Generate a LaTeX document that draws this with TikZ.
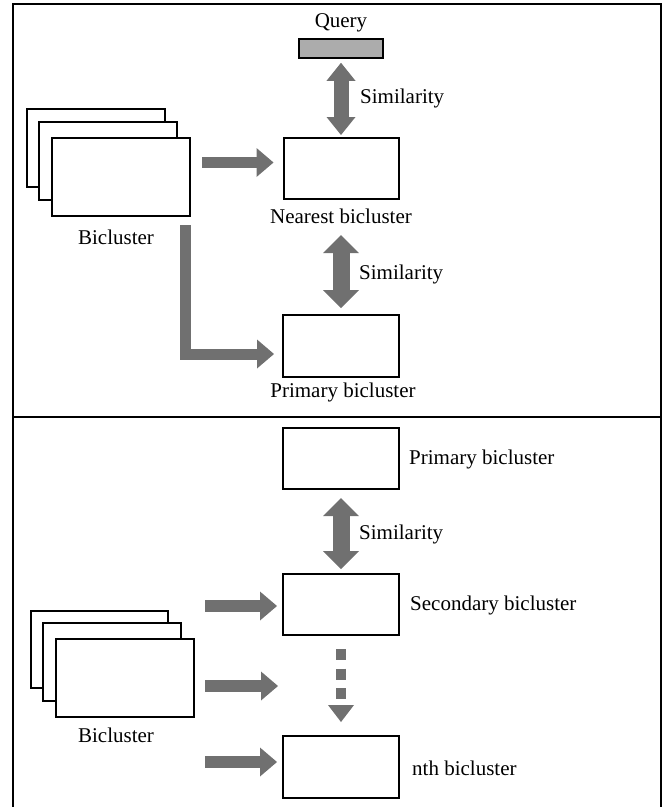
\documentclass[tikz,border=0pt]{standalone}
\usepackage{fontspec}
\setmainfont{Liberation Serif}
\usetikzlibrary{arrows.meta,calc}
\definecolor{arrowgray}{RGB}{112,112,112}
\definecolor{querygray}{RGB}{172,172,172}
\begin{document}
\begin{tikzpicture}[x=1pt,y=-1pt,
  every node/.style={font=\fontsize{21}{25}\selectfont},
  box/.style={draw=black,line width=2pt,fill=white,inner sep=0pt,minimum width=116pt,minimum height=61pt},
  stackbox/.style={draw=black,line width=2pt,fill=white,inner sep=0pt,minimum width=138pt,minimum height=78pt},
  lbl/.style={inner sep=0pt},
  harrow/.style={draw=arrowgray,line width=11.5pt,line join=miter,
     -{Triangle[width=29pt,length=17pt,line width=0pt,fill=arrowgray]}},
  varrowA/.style={draw=arrowgray,line width=15pt,
     {Triangle[width=29pt,length=18pt,line width=0pt,fill=arrowgray]}-{Triangle[width=29pt,length=18pt,line width=0pt,fill=arrowgray]}},
  varrowB/.style={draw=arrowgray,line width=17pt,
     {Triangle[width=36pt,length=18pt,line width=0pt,fill=arrowgray]}-{Triangle[width=36pt,length=18pt,line width=0pt,fill=arrowgray]}},
  dotarrow/.style={draw=arrowgray,line width=10pt,dash pattern=on 11pt off 8.5pt,
     -{Triangle[width=26pt,length=17pt,line width=0pt,fill=arrowgray]}}
]
\useasboundingbox (0,0) rectangle (667,807);
% frame
\draw[line width=2pt] (13,807) -- (13,4) -- (661,4) -- (661,807);
\draw[line width=2pt] (13,417) -- (661,417);

% ---------- top panel ----------
\node[draw=black,line width=1.6pt,fill=querygray,minimum width=84pt,minimum height=19pt,inner sep=0pt] (query) at (341,48.5) {};
\node[lbl] (querylbl) at (341,23) {Query};

\node[stackbox] (ts1) at (96,148) {};
\node[stackbox] (ts2) at (107.5,160.5) {};
\node[stackbox] (ts3) at (121,176.5) {};
\node[lbl] (tslbl) at (116,237) {Bicluster};

\node[box,minimum width=115pt] (nearest) at (341,168.5) {};
\node[lbl] (nearestlbl) at (341,216) {Nearest bicluster};

\node[box,minimum height=62pt] (primary1) at (341,346) {};
\node[lbl] (primary1lbl) at (343,392) {Primary bicluster};

\draw[varrowA,shorten <=4pt,shorten >=2pt] (query.south) -- (nearest.north);
\node[lbl,anchor=west] (sim1) at (360,98) {Similarity};

\coordinate (a1) at (202,162.5);
\draw[harrow,shorten >=9pt] (a1) -- (a1 -| nearest.west);

\draw[varrowB,shorten >=6pt] ([yshift=-19pt]nearestlbl.center) -- (primary1.north);
\node[lbl,anchor=west] (sim2) at (359,274) {Similarity};

\coordinate (lstart) at (185.5,225);
\draw[harrow,line width=11pt,shorten >=8pt] (lstart) |- ([yshift=-8pt]primary1.west);

% ---------- bottom panel ----------
\node[box] (primary2) at (341,458.5) {};
\node[lbl,anchor=west] (primary2lbl) at (409,459) {Primary bicluster};

\node[box] (secondary) at (341,604.5) {};
\node[lbl,anchor=west] (secondarylbl) at (410,605) {Secondary bicluster};

\node[box,minimum height=62pt] (nth) at (341,767) {};
\node[lbl,anchor=west] (nthlbl) at (412,768) {nth bicluster};

\draw[varrowB,shorten <=8pt,shorten >=4pt] (primary2.south) -- (secondary.north);
\node[lbl,anchor=west] (sim3) at (359,534) {Similarity};

\draw[dotarrow,shorten <=13pt,shorten >=13pt] (secondary.south) -- (nth.north);

\node[stackbox,minimum width=137pt,minimum height=77pt] (bs1) at (99.5,649.5) {};
\node[stackbox] (bs2) at (111.5,662) {};
\node[stackbox] (bs3) at (125,678) {};
\node[lbl] (bslbl) at (116,735) {Bicluster};

\coordinate (b1) at (205,606);
\coordinate (b2) at (205,686);
\coordinate (b2e) at (278,686);
\coordinate (b3) at (205,762);
\draw[harrow,shorten >=5pt] (b1) -- (b1 -| secondary.west);
\draw[harrow] (b2) -- (b2e);
\draw[harrow,shorten >=5pt] (b3) -- (b3 -| nth.west);
\end{tikzpicture}
\end{document}
